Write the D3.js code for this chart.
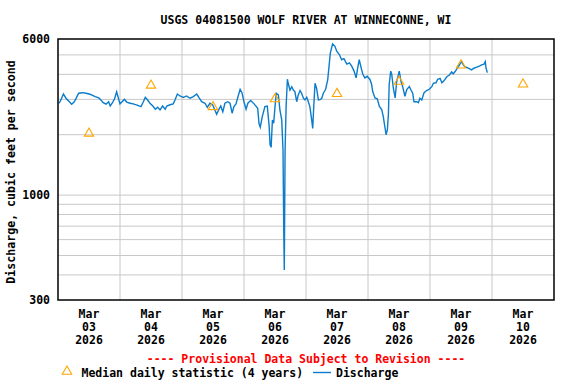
<!DOCTYPE html>
<html>
<head>
<meta charset="utf-8">
<script src="https://cdn.jsdelivr.net/npm/d3@7"></script>
<style>
  body { margin: 0; background: #fff; }
  text { font-family: "DejaVu Sans Mono", "Liberation Mono", monospace; font-weight: bold; }
</style>
</head>
<body>
<div id="chart"></div>
<script>

// Discharge readings, hours after Mar 03 2026 00:00 and cubic feet per second
var hours = [0.3, 0.8, 2.1, 3.1, 4.4, 5.3, 6.3, 7.2, 8.0, 9.6, 10.8, 12.1, 13.2, 14.4, 15.8, 16.6, 17.5, 18.6, 19.6, 20.2,
  21.2, 21.9, 22.7, 23.2, 24.0, 24.8, 25.7, 26.6, 27.9, 29.1, 30.9, 32.1, 33.0, 33.8, 34.7, 35.6, 36.7, 37.7, 38.6, 39.5,
  40.5, 41.5, 42.1, 43.4, 44.6, 45.3, 46.2, 47.2, 48.5, 49.8, 51.1, 52.4, 53.7, 54.7, 55.6, 56.9, 57.8, 58.8, 59.9, 60.8,
  61.4, 62.2, 63.0, 63.8, 64.6, 65.7, 66.6, 67.4, 68.1, 68.9, 69.7, 70.5, 71.2, 72.0, 72.8, 73.5, 74.6, 75.9, 77.3, 77.8,
  78.3, 79.1, 80.1, 81.0, 81.7, 82.1, 82.5, 83.0, 83.5, 84.0, 84.5, 85.3, 85.9, 86.6, 87.1, 87.4, 87.6, 87.9, 88.3, 88.8,
  89.1, 89.8, 90.5, 91.1, 91.7, 92.4, 93.0, 93.7, 94.3, 95.0, 95.6, 96.3, 96.9, 97.5, 98.2, 98.6, 99.0, 99.5, 100.1, 100.8,
  101.4, 102.1, 102.7, 103.6, 104.4, 104.9, 105.4, 106.0, 106.3, 107.2, 107.9, 108.9, 109.8, 110.7, 111.8, 112.8, 113.7, 114.6, 115.4, 115.9,
  116.6, 117.2, 118.0, 118.8, 119.7, 120.8, 121.4, 121.8, 122.7, 123.6, 124.4, 125.3, 125.9, 126.6, 127.0, 127.5, 127.9, 128.2, 128.8, 129.2,
  129.8, 130.5, 131.1, 132.1, 132.8, 133.4, 134.3, 135.0, 136.0, 136.5, 137.3, 137.8, 138.9, 139.5, 140.1, 140.8, 141.7, 142.7, 143.7, 144.7,
  145.3, 146.3, 147.0, 147.9, 148.6, 149.4, 150.5, 151.5, 152.4, 153.0, 153.7, 154.6, 155.6, 156.3, 156.9, 157.5, 158.8, 160.1, 161.0, 162.1,
  163.1, 164.0, 164.9, 165.4, 165.7, 166.2];
var cfs = [2870, 2920, 3190, 3040, 2920, 2840, 2920, 3070, 3220, 3240, 3220, 3190, 3150, 3100, 3050, 2980, 2890, 2840, 2920, 2780,
  2910, 3020, 3270, 3100, 2850, 2920, 3000, 2910, 2870, 2850, 2800, 2760, 2910, 3070, 2980, 2870, 2780, 2680, 2740, 2660,
  2780, 2680, 2780, 2820, 2850, 2980, 3190, 3120, 3070, 3120, 3040, 3100, 3190, 3040, 2920, 2870, 2740, 2870, 2810, 2640,
  2530, 2660, 2780, 2600, 2870, 2920, 2870, 2560, 2760, 2850, 3100, 3370, 3240, 2920, 2680, 2870, 2960, 2850, 2710, 2280,
  2180, 2470, 2760, 2780, 2240, 1780, 1730, 2370, 2280, 2760, 3220, 3160, 2660, 2370, 1680, 655, 423, 1680, 2760, 3780,
  3610, 3340, 3470, 3340, 3280, 2920, 3160, 3320, 3220, 3040, 2980, 3070, 2920, 2760, 2370, 2150, 2760, 3610, 3400, 2980,
  2990, 3040, 3220, 3370, 3750, 4370, 5090, 5480, 5670, 5520, 5220, 5020, 4730, 4790, 4500, 4560, 4390, 4150, 3840, 4220,
  4730, 4390, 4000, 3840, 3910, 3760, 3560, 3290, 3050, 3020, 2770, 2670, 2470, 2160, 2000, 2120, 2530, 3560, 4150, 4000,
  3420, 3050, 3680, 4150, 3680, 3480, 3110, 3360, 3480, 3370, 3220, 2920, 2920, 2890, 3040, 2980, 3240, 3320, 3370, 3470,
  3610, 3630, 3780, 3820, 3630, 3710, 3890, 3970, 4110, 4020, 4130, 4290, 4500, 4630, 4460, 4370, 4290, 4210, 4290, 4340,
  4400, 4460, 4500, 4630, 4290, 4080];

// Median daily statistic, one per day (plotted at noon)
var medianDays = [3, 4, 5, 6, 7, 8, 9, 10];
var medianCfs = [2030, 3520, 2750, 3010, 3200, 3680, 4440, 3570];

// Axis ticks
var yLabels = [300, 1000, 6000];
var yGrid = [400, 500, 600, 700, 800, 900, 1000, 2000, 3000, 4000, 5000];
var xDays = [3, 4, 5, 6, 7, 8, 9, 10];

var width = 576, height = 384;
var plotLeft = 58, plotRight = 554, plotTop = 39, plotBottom = 300;

var svg = d3.select("#chart").append("svg")
    .attr("width", width)
    .attr("height", height);

var start = new Date(2026, 2, 3);
var x = d3.scaleTime()
    .domain([start, new Date(2026, 2, 11)])
    .range([plotLeft, plotRight]);
var y = d3.scaleLog()
    .domain([300, 6000])
    .range([plotBottom, plotTop]);

function hoursToDate(h) {
    return new Date(start.getTime() + h * 3600 * 1000);
}

//Grid lines
svg.append("g").selectAll("line")
    .data(yGrid)
    .enter().append("line")
    .attr("x1", plotLeft).attr("x2", plotRight)
    .attr("y1", d => y(d)).attr("y2", d => y(d))
    .attr("stroke", "#c8c8c8").attr("stroke-width", 1);

svg.append("g").selectAll("line")
    .data(xDays.slice(1))
    .enter().append("line")
    .attr("x1", d => x(new Date(2026, 2, d))).attr("x2", d => x(new Date(2026, 2, d)))
    .attr("y1", plotTop).attr("y2", plotBottom)
    .attr("stroke", "#c8c8c8").attr("stroke-width", 1);

//Discharge line
var points = hours.map((h, i) => [hoursToDate(h), cfs[i]]);
var line = d3.line()
    .x(d => x(d[0]))
    .y(d => y(d[1]));

svg.append("path")
    .datum(points)
    .attr("d", line)
    .attr("fill", "none")
    .attr("stroke", "#0a7ccb")
    .attr("stroke-width", 1.4)
    .attr("stroke-linejoin", "miter");

//Median triangles
var tri = d3.symbol().type(d3.symbolTriangle).size(38);
svg.append("g").selectAll("path")
    .data(medianDays)
    .enter().append("path")
    .attr("d", tri)
    .attr("transform", (d, i) => "translate(" + x(new Date(2026, 2, d, 12)) + "," + y(medianCfs[i]) + ")")
    .attr("fill", "none")
    .attr("stroke", "#ffa500")
    .attr("stroke-width", 1.1);

//Frame
svg.append("rect")
    .attr("x", plotLeft).attr("y", plotTop)
    .attr("width", plotRight - plotLeft).attr("height", plotBottom - plotTop)
    .attr("fill", "none")
    .attr("stroke", "#000")
    .attr("stroke-width", 1.5);

//Y labels
svg.append("g").selectAll("text")
    .data(yLabels)
    .enter().append("text")
    .attr("x", 50)
    .attr("y", d => y(d))
    .attr("dy", "0.35em")
    .attr("text-anchor", "end")
    .style("font-size", "11.5px")
    .text(d => d);

//X labels, three lines each
var monthDay = svg.append("g").selectAll("text")
    .data(xDays)
    .enter().append("text")
    .attr("text-anchor", "middle")
    .style("font-size", "11.5px");

monthDay.each(function(d) {
    var t = d3.select(this);
    var cx = x(new Date(2026, 2, d, 12));
    ["Mar", d3.format("02")(d), "2026"].forEach((s, k) => {
        t.append("tspan").attr("x", cx).attr("y", 318 + k * 13).text(s);
    });
});

//Title
svg.append("text")
    .attr("x", (plotLeft + plotRight) / 2)
    .attr("y", 24)
    .attr("text-anchor", "middle")
    .style("font-size", "11.5px")
    .text("USGS 04081500 WOLF RIVER AT WINNECONNE, WI");

//Axis title
svg.append("text")
    .attr("transform", "translate(15,172) rotate(-90)")
    .attr("text-anchor", "middle")
    .style("font-size", "11.6px")
    .text("Discharge, cubic feet per second");

//Provisional note
svg.append("text")
    .attr("x", 306)
    .attr("y", 362.5)
    .attr("text-anchor", "middle")
    .attr("fill", "#ff0000")
    .style("font-size", "11.5px")
    .text("---- Provisional Data Subject to Revision ----");

//Legend
svg.append("path")
    .attr("d", tri)
    .attr("transform", "translate(67,371.5)")
    .attr("fill", "none")
    .attr("stroke", "#ffa500")
    .attr("stroke-width", 1.1);
svg.append("text")
    .attr("x", 81.5).attr("y", 376.5)
    .style("font-size", "11.5px")
    .text("Median daily statistic (4 years)");
svg.append("line")
    .attr("x1", 313).attr("x2", 331)
    .attr("y1", 372.5).attr("y2", 372.5)
    .attr("stroke", "#0a7ccb").attr("stroke-width", 1.4);
svg.append("text")
    .attr("x", 336).attr("y", 376.5)
    .style("font-size", "11.5px")
    .text("Discharge");

</script>
</body>
</html>
